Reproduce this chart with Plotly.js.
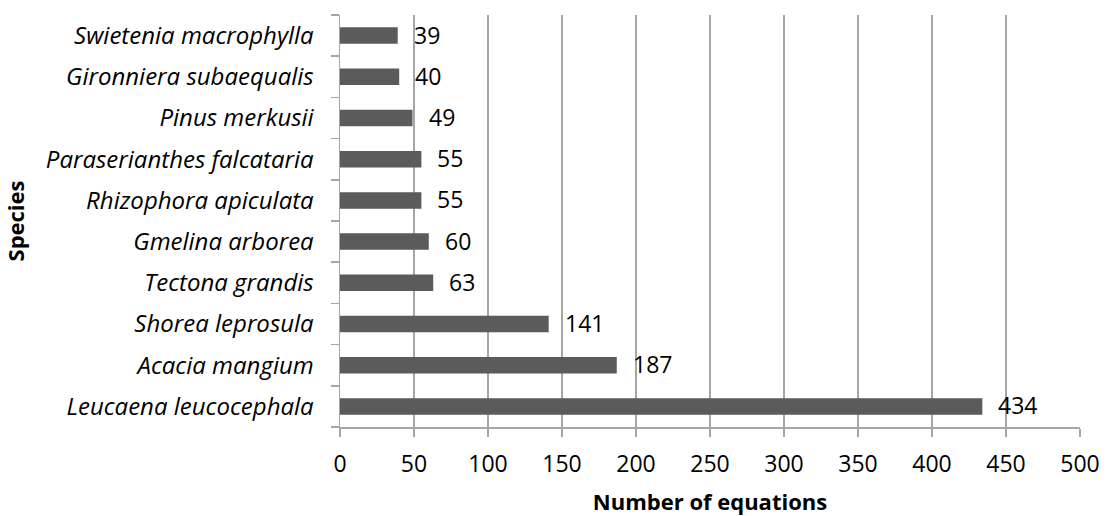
<!DOCTYPE html>
<html>
<head>
<meta charset="utf-8">
<script src="https://cdn.plot.ly/plotly-3.0.1.min.js"></script>
<style>
  html, body { margin: 0; padding: 0; background: #fff; }
  #chart { width: 1108px; height: 516px; }
</style>
</head>
<body>
<div id="chart"></div>
<script>
// Species, listed from the bottom bar upwards
const species = [
  "Leucaena leucocephala",
  "Acacia mangium",
  "Shorea leprosula",
  "Tectona grandis",
  "Gmelina arborea",
  "Rhizophora apiculata",
  "Paraserianthes falcataria",
  "Pinus merkusii",
  "Gironniera subaequalis",
  "Swietenia macrophylla"
];
// Number of allometric equations per species
const equationCounts = [434, 187, 141, 63, 60, 55, 55, 49, 40, 39];
const xTickValues = [0, 50, 100, 150, 200, 250, 300, 350, 400, 450, 500];

const FONT = "'Open Sans', 'Noto Sans', 'Liberation Sans', sans-serif";
const NUM_SIZE = 23;
const LABEL_SIZE = 24;
const TITLE_SIZE = 22;
const AXIS_GREY = "#a6a6a6";

const trace = {
  type: "bar",
  orientation: "h",
  x: equationCounts,
  y: species,
  marker: { color: "#5b5b5b" },
  width: 0.4,
  hoverinfo: "x+y"
};

// Value labels sitting just right of each bar end
const valueLabels = equationCounts.map((v, i) => ({
  x: v,
  y: species[i],
  xref: "x",
  yref: "y",
  text: String(v),
  showarrow: false,
  xanchor: "left",
  yanchor: "middle",
  xshift: 14,
  yshift: 1,
  font: { family: FONT, size: NUM_SIZE, color: "#000" }
}));

const layout = {
  width: 1108,
  height: 516,
  margin: { l: 340, r: 28, t: 15, b: 89 },
  paper_bgcolor: "#fff",
  plot_bgcolor: "#fff",
  showlegend: false,
  font: { family: FONT, size: NUM_SIZE, color: "#000" },
  xaxis: {
    range: [0, 500],
    tickvals: xTickValues,
    ticktext: xTickValues.map(String),
    showgrid: true,
    gridcolor: AXIS_GREY,
    gridwidth: 1.5,
    zeroline: false,
    showline: true,
    linecolor: AXIS_GREY,
    linewidth: 1.5,
    ticks: "outside",
    ticklen: 8,
    tickwidth: 1.5,
    tickcolor: AXIS_GREY,
    ticklabelstandoff: 8,
    tickfont: { family: FONT, size: NUM_SIZE, color: "#000" },
    title: {
      text: "<b>Number of equations</b>",
      font: { family: FONT, size: TITLE_SIZE, color: "#000" },
      standoff: 18
    },
    fixedrange: true
  },
  yaxis: {
    type: "category",
    categoryorder: "array",
    categoryarray: species,
    tickson: "boundaries",
    showgrid: false,
    zeroline: false,
    showline: true,
    linecolor: AXIS_GREY,
    linewidth: 1.5,
    ticks: "outside",
    ticklen: 8,
    tickwidth: 1.5,
    tickcolor: AXIS_GREY,
    ticklabelstandoff: 20,
    tickfont: { family: FONT, size: LABEL_SIZE, color: "#000", style: "italic" },
    title: {
      text: "<b>Species</b>",
      font: { family: FONT, size: TITLE_SIZE, color: "#000" },
      standoff: 40
    },
    fixedrange: true
  },
  annotations: valueLabels
};

Plotly.newPlot("chart", [trace], layout, { displayModeBar: false, staticPlot: true });
</script>
</body>
</html>
